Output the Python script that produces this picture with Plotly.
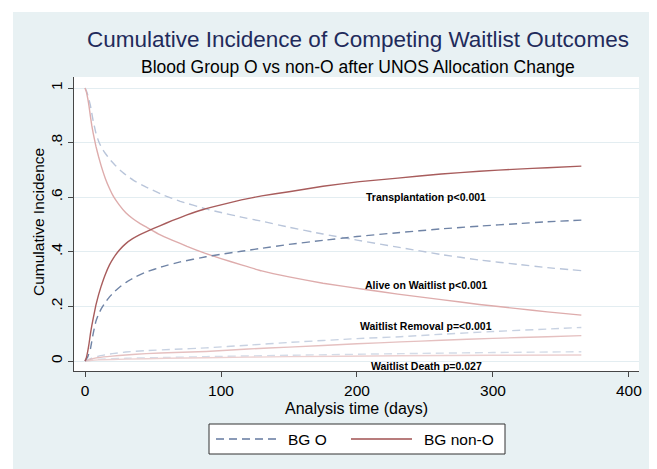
import plotly.graph_objects as go

# ---------------- data ----------------
days_tx_non_o = [0, 1, 2, 3, 4, 5, 6, 8, 10, 12, 15, 18, 21, 25, 30, 35, 40, 46, 55, 64, 75, 87, 100, 115, 130, 150, 175, 202, 230, 262, 290, 318, 340, 365]
tx_non_o = [0, 0.012, 0.035, 0.065, 0.10, 0.13, 0.155, 0.205, 0.243, 0.276, 0.318, 0.352, 0.378, 0.405, 0.43, 0.448, 0.462, 0.476, 0.495, 0.514, 0.535, 0.555, 0.572, 0.59, 0.605, 0.62, 0.64, 0.657, 0.67, 0.685, 0.695, 0.703, 0.708, 0.714]

days_tx_o = [0, 2, 4, 6, 8, 10, 12, 15, 18, 22, 26, 31, 37, 45, 57, 70, 89, 100, 115, 130, 150, 175, 200, 230, 262, 290, 318, 340, 365]
tx_o = [0, 0.015, 0.045, 0.10, 0.145, 0.172, 0.192, 0.215, 0.235, 0.256, 0.273, 0.291, 0.308, 0.326, 0.346, 0.363, 0.382, 0.391, 0.402, 0.413, 0.427, 0.442, 0.456, 0.47, 0.484, 0.494, 0.503, 0.51, 0.516]

days_alive_non_o = [0, 1, 2, 3, 4, 5, 6, 8, 10, 12, 15, 18, 21, 25, 30, 35, 40, 46, 55, 64, 75, 88, 100, 115, 130, 150, 175, 206, 230, 262, 290, 318, 340, 365]
alive_non_o = [1.0, 0.986, 0.962, 0.932, 0.895, 0.862, 0.835, 0.787, 0.748, 0.713, 0.668, 0.632, 0.602, 0.573, 0.543, 0.522, 0.505, 0.488, 0.463, 0.443, 0.42, 0.395, 0.375, 0.352, 0.33, 0.308, 0.285, 0.262, 0.245, 0.225, 0.207, 0.192, 0.18, 0.168]

days_alive_o = [0, 1, 2, 3, 4, 6, 8, 10, 12, 15, 18, 22, 26, 31, 37, 45, 57, 70, 89, 100, 115, 130, 150, 175, 200, 230, 262, 290, 318, 340, 365]
alive_o = [1.0, 0.99, 0.975, 0.955, 0.935, 0.88, 0.835, 0.805, 0.783, 0.76, 0.74, 0.718, 0.698, 0.678, 0.658, 0.637, 0.609, 0.585, 0.557, 0.544, 0.527, 0.512, 0.49, 0.465, 0.443, 0.417, 0.39, 0.37, 0.354, 0.342, 0.331]

days_removal = [0, 5, 10, 20, 30, 45, 66, 89, 120, 150, 200, 232, 262, 300, 340, 365]
removal_o = [0, 0.01, 0.018, 0.027, 0.033, 0.038, 0.043, 0.048, 0.058, 0.068, 0.082, 0.089, 0.098, 0.108, 0.117, 0.123]
removal_non_o = [0, 0.008, 0.013, 0.018, 0.022, 0.027, 0.031, 0.035, 0.044, 0.051, 0.063, 0.070, 0.076, 0.083, 0.089, 0.093]

days_death = [0, 10, 30, 60, 89, 150, 232, 300, 365]
death_o = [0, 0.006, 0.010, 0.013, 0.016, 0.021, 0.027, 0.031, 0.034]
death_non_o = [0, 0.004, 0.007, 0.010, 0.012, 0.016, 0.019, 0.021, 0.022]

x_ticks = [0, 100, 200, 300, 400]
y_ticks = [0, 0.2, 0.4, 0.6, 0.8, 1.0]
y_tick_labels = ["0", ".2", ".4", ".6", ".8", "1"]

outcome_labels = ["Transplantation p<0.001", "Alive on Waitlist p<0.001",
                  "Waitlist Removal p=<0.001", "Waitlist Death p=0.027"]
label_x = [251, 251, 251, 251]
label_y = [0.60, 0.278, 0.128, -0.018]

legend_names = ["BG O", "BG non-O"]

# ---------------- figure ----------------
FONT = "Liberation Sans, Arial, Helvetica, sans-serif"
DASH = "8px,5px"
C_O_LEG = "rgb(100,122,160)"
C_N_LEG = "rgb(160,80,80)"

# the page body has an 8px margin, so the figure is 8px smaller than the window
OFF = 8
W, H = 657 - OFF, 469 - OFF

fig = go.Figure()

series = [
    (days_death, death_o, "rgb(212,220,232)", DASH),
    (days_death, death_non_o, "rgb(236,208,208)", "solid"),
    (days_removal, removal_o, "rgb(200,210,226)", DASH),
    (days_removal, removal_non_o, "rgb(229,192,192)", "solid"),
    (days_alive_o, alive_o, "rgb(185,197,218)", DASH),
    (days_alive_non_o, alive_non_o, "rgb(222,172,172)", "solid"),
    (days_tx_o, tx_o, "rgb(112,132,166)", DASH),
    (days_tx_non_o, tx_non_o, "rgb(168,92,92)", "solid"),
]
for xs, ys, col, dash in series:
    fig.add_trace(go.Scatter(x=xs, y=ys, mode="lines",
                             line=dict(color=col, width=1.4, dash=dash, shape="spline", smoothing=0.3),
                             showlegend=False, hoverinfo="skip"))

for txt, lx, ly in zip(outcome_labels, label_x, label_y):
    fig.add_annotation(x=lx, y=ly, xref="x", yref="y", text="<b>" + txt + "</b>",
                       xanchor="center", yanchor="middle",
                       showarrow=False, font=dict(size=10.5, color="black", family=FONT))

# page-pixel -> paper helpers (plot area in page pixels)
L, R, T, B = 74, 639, 77, 371
def px(x):
    return (x - L) / (R - L)
def py(y):
    return (B - y) / (B - T)

def text_at(x, y, txt, size, color="black", angle=0, xanchor="center"):
    fig.add_annotation(x=px(x), y=py(y), xref="paper", yref="paper", text=txt,
                       textangle=angle, xanchor=xanchor, yanchor="middle",
                       showarrow=False, font=dict(size=size, color=color, family=FONT))

text_at(358, 40, "Cumulative Incidence of Competing Waitlist Outcomes", 22.5, "#1f2b5b")
text_at(358, 67, "Blood Group O vs non-O after UNOS Allocation Change", 17.5)
text_at(38, 222, "Cumulative Incidence", 15.5, angle=-90)
text_at(356.5, 408, "Analysis time (days)", 16)

# white outer strips (reference has a white border outside the tinted frame)
for x0, y0, x1, y1 in [(0, 0, 13, 469), (0, 0, 657, 12), (653, 0, 657, 469)]:
    fig.add_shape(type="rect", xref="paper", yref="paper",
                  x0=px(x0), x1=px(x1), y0=py(y1), y1=py(y0),
                  fillcolor="white", line=dict(width=0), layer="below")

# legend box drawn by hand (long line samples like the original)
fig.add_shape(type="rect", xref="paper", yref="paper",
              x0=px(209), x1=px(505), y0=py(454), y1=py(424),
              fillcolor="white", line=dict(color="rgb(50,50,50)", width=1), layer="above")
fig.add_shape(type="line", xref="paper", yref="paper",
              x0=px(216), x1=px(277), y0=py(439), y1=py(439),
              line=dict(color=C_O_LEG, width=1.4, dash=DASH))
fig.add_shape(type="line", xref="paper", yref="paper",
              x0=px(351), x1=px(412), y0=py(439), y1=py(439),
              line=dict(color=C_N_LEG, width=1.4))
text_at(286, 439, legend_names[0], 15.5, xanchor="left")
text_at(422, 439, legend_names[1], 15.5, xanchor="left")

fig.update_layout(
    width=W, height=H,
    margin=dict(l=L - OFF, r=W - (R - OFF), t=T - OFF, b=H - (B - OFF), autoexpand=False),
    paper_bgcolor="#e8f1f3",
    plot_bgcolor="white",
    font=dict(family=FONT, size=15, color="black"),
    showlegend=False,
)
fig.update_xaxes(range=[-8.1, 407.4], tickvals=x_ticks, ticks="outside", ticklen=5,
                 tickcolor="rgb(70,70,70)", showline=True, linecolor="rgb(70,70,70)", linewidth=1,
                 showgrid=False, zeroline=False, tickfont=dict(size=15.5), automargin=False)
fig.update_yaxes(range=[-0.0366, 1.0403], tickvals=y_ticks, ticktext=y_tick_labels,
                 ticks="outside", ticklen=5, tickangle=-90,
                 tickcolor="rgb(70,70,70)", showline=True, linecolor="rgb(70,70,70)", linewidth=1,
                 showgrid=True, gridcolor="#e3edf1", gridwidth=1, zeroline=False,
                 tickfont=dict(size=15.5), automargin=False)

fig.write_html("out.html")
